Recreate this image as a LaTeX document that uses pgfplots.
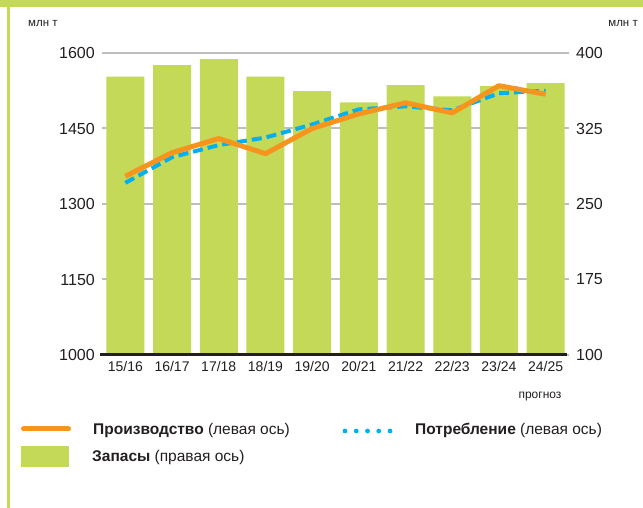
\documentclass[border=0pt]{standalone}
\usepackage{pgfplots}
\pgfplotsset{compat=1.18}
\usepackage{pgfplotstable}
\usepackage{fontspec}
\setmainfont{Liberation Sans}
\definecolor{bargreen}{RGB}{196,217,88}
\definecolor{prodorange}{RGB}{247,148,30}
\definecolor{consblue}{RGB}{0,176,240}
\definecolor{gridgray}{RGB}{190,190,190}
\definecolor{axisblack}{RGB}{35,31,32}
\definecolor{txt}{RGB}{35,31,32}

\pgfplotstableread{
x stocks prod cons
0 376.5 1355 1342
1 388 1402 1393
2 394 1430 1417
3 376.5 1400 1432
4 362 1450 1458
5 351 1479 1488
6 368 1501 1494
7 357 1481 1486
8 367 1535 1520
9 370 1518 1525
}\data

\pgfplotsset{
  base/.style={
    scale only axis, width=467pt, height=302pt,
    at={(102pt,153pt)}, anchor=south west,
    xmin=-0.5, xmax=9.5,
    /pgf/number format/assume math mode=true,
    /pgf/number format/set thousands separator={},
  }
}

\begin{document}
\begin{tikzpicture}[x=1pt,y=1pt]
\path[fill=white] (0,0) rectangle (643,508);
\fill[bargreen] (0,501) rectangle (643,508);
\fill[bargreen] (7,0) rectangle (10,508);

% grid + left tick labels
\begin{axis}[base,
  ymin=1000, ymax=1600,
  axis y line*=left, axis x line=none,
  ytick={1000,1150,1300,1450,1600},
  ymajorgrids, grid style={gridgray, line width=2pt},
  axis line style={draw=none},
  major tick length=0pt,
  xtick=\empty,
  yticklabel style={font=\fontsize{16}{19}\selectfont, text=txt, anchor=east, inner sep=0pt, xshift=-7pt},
]
\end{axis}

% bars, right axis, x axis
\begin{axis}[base,
  ymin=100, ymax=400,
  axis on top,
  axis y line*=right, axis x line*=bottom,
  ytick={100,175,250,325,400},
  ybar, bar width=38pt,
  x axis line style={axisblack, line width=3pt, shorten >=2pt, shorten <=-2pt},
  y axis line style={draw=none},
  major tick length=0pt,
  xtick={0,...,9},
  xticklabels={15/16,16/17,17/18,18/19,19/20,20/21,21/22,22/23,23/24,24/25},
  xticklabel style={font=\fontsize{14}{17}\selectfont, text=txt, anchor=north, inner sep=0pt, yshift=-6pt},
  yticklabel style={font=\fontsize{16}{19}\selectfont, text=txt, anchor=west, inner sep=0pt, xshift=7pt},
]
\addplot[fill=bargreen, draw=none] table[x=x, y=stocks]{\data};
\end{axis}

% lines
\begin{axis}[base, ymin=1000, ymax=1600, hide axis]
\addplot[consblue, line width=4pt, dash pattern=on 10pt off 5pt] table[x=x, y=cons]{\data};
\addplot[prodorange, line width=5pt, line join=round] table[x=x, y=prod]{\data};
\end{axis}

% unit labels
\node[anchor=base west, inner sep=0pt, text=txt] at (28,481) {\fontsize{11.5}{13}\selectfont млн т};
\node[anchor=base east, inner sep=0pt, text=txt] at (638,481) {\fontsize{11.5}{13}\selectfont млн т};
\node[anchor=base, inner sep=0pt, text=txt] at (540,109) {\fontsize{12}{14}\selectfont прогноз};

% legend
\draw[prodorange, line width=5pt, line cap=round] (23.5,79) -- (68.5,79);
\node[anchor=base west, inner sep=0pt, text=txt] at (93,73) {\fontsize{15.5}{18}\selectfont\textbf{Производство} (левая ось)};
\foreach \i in {0,...,4} \fill[consblue] (345+11.25*\i,77) circle (2.4);
\node[anchor=base west, inner sep=0pt, text=txt] at (415,73) {\fontsize{15.5}{18}\selectfont\textbf{Потребление} (левая ось)};
\fill[bargreen] (21,41) rectangle (69,62);
\node[anchor=base west, inner sep=0pt, text=txt] at (92,46) {\fontsize{15.5}{18}\selectfont\textbf{Запасы} (правая ось)};
\end{tikzpicture}
\end{document}
